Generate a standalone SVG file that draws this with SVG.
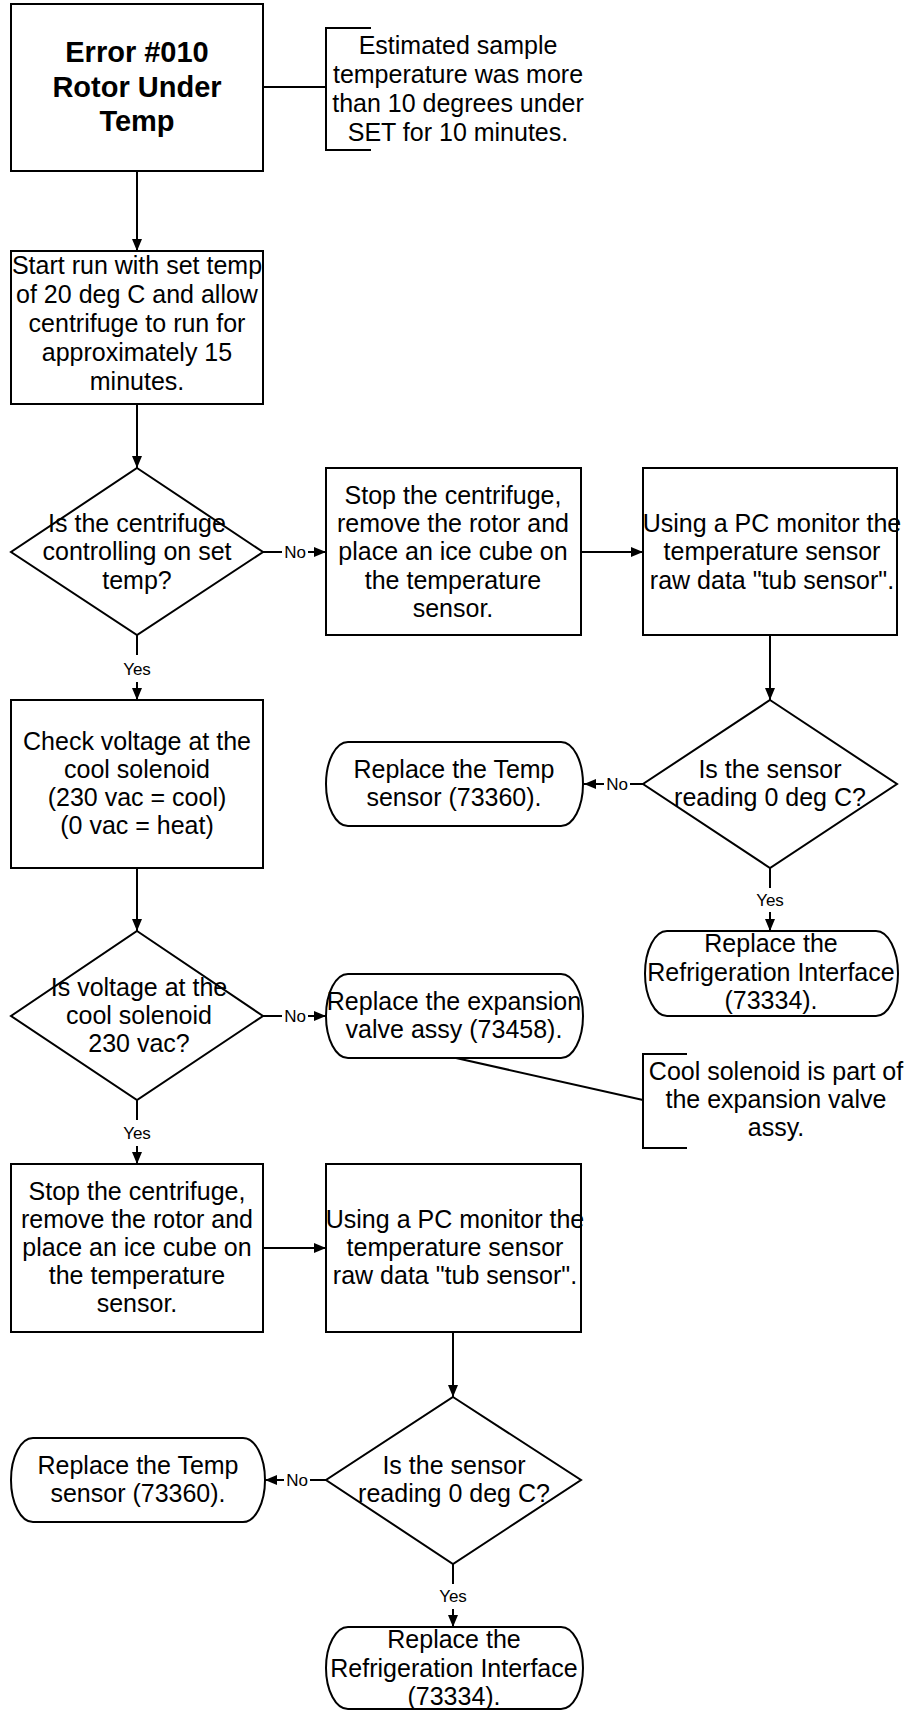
<svg xmlns="http://www.w3.org/2000/svg" width="907" height="1711" viewBox="0 0 907 1711">
<style>
.s{fill:#fff;stroke:#000;stroke-width:2}
.t{font-family:"Liberation Sans",Arial,sans-serif;font-size:25px;fill:#000;text-anchor:middle}
.b{font-family:"Liberation Sans",Arial,sans-serif;font-size:29px;font-weight:bold;fill:#000;text-anchor:middle}
.l{font-family:"Liberation Sans",Arial,sans-serif;font-size:17px;fill:#000;text-anchor:middle}
.c{fill:none;stroke:#000;stroke-width:2}
.a{fill:none;stroke:#000;stroke-width:2;marker-end:url(#ah)}
</style>
<defs>
<marker id="ah" viewBox="0 0 12 10" refX="12" refY="5" markerWidth="12" markerHeight="10" markerUnits="userSpaceOnUse" orient="auto">
<path d="M0,0 L12,5 L0,10 z" fill="#000"/>
</marker>
</defs>
<rect width="907" height="1711" fill="#fff"/>

<g id="connectors">
<path class="a" d="M137,171 V251"/>
<path class="a" d="M137,404 V468"/>
<path class="c" d="M263,552 H282"/>
<path class="a" d="M308,552 H326"/>
<path class="a" d="M581,552 H643"/>
<path class="a" d="M770,635 V700"/>
<path class="c" d="M643,784 H630"/>
<path class="a" d="M604,784 H584"/>
<path class="c" d="M770,868 V888"/>
<path class="a" d="M770,912 V931"/>
<path class="c" d="M137,635 V655"/>
<path class="a" d="M137,682 V700"/>
<path class="a" d="M137,868 V931"/>
<path class="c" d="M263,1016 H282"/>
<path class="a" d="M308,1016 H326"/>
<path class="c" d="M137,1100 V1120"/>
<path class="a" d="M137,1146 V1164"/>
<path class="a" d="M263,1248 H326"/>
<path class="a" d="M453,1332 V1397"/>
<path class="c" d="M326,1480 H310"/>
<path class="a" d="M284,1480 H265"/>
<path class="c" d="M453,1564 V1584"/>
<path class="a" d="M453,1609 V1627"/>
<path class="c" d="M263,87 H326"/>
<path class="c" d="M456,1058 L643,1100"/>
<text class="l" x="295" y="558">No</text>
<text class="l" x="617" y="790">No</text>
<text class="l" x="770" y="906">Yes</text>
<text class="l" x="137" y="675">Yes</text>
<text class="l" x="295" y="1022">No</text>
<text class="l" x="137" y="1139">Yes</text>
<text class="l" x="297" y="1486">No</text>
<text class="l" x="453" y="1602">Yes</text>
</g>

<g id="n-error">
<rect class="s" x="11" y="4" width="252" height="167"/>
<text class="b" x="137" y="62">Error #010</text>
<text class="b" x="137" y="97">Rotor Under</text>
<text class="b" x="137" y="131">Temp</text>
</g>

<g id="n-note1">
<path class="c" d="M371,28 H326 V150 H371"/>
<text class="t" x="458" y="54">Estimated sample</text>
<text class="t" x="458" y="83">temperature was more</text>
<text class="t" x="458" y="112">than 10 degrees under</text>
<text class="t" x="458" y="141">SET for 10 minutes.</text>
</g>

<g id="n-start">
<rect class="s" x="11" y="251" width="252" height="153"/>
<text class="t" x="137" y="274">Start run with set temp</text>
<text class="t" x="137" y="303">of 20 deg C and allow</text>
<text class="t" x="137" y="332">centrifuge to run for</text>
<text class="t" x="137" y="361">approximately 15</text>
<text class="t" x="137" y="390">minutes.</text>
</g>

<g id="n-d1">
<path class="s" d="M137,468 L263,552 L137,635 L11,552 Z"/>
<text class="t" x="137" y="532">Is the centrifuge</text>
<text class="t" x="137" y="560">controlling on set</text>
<text class="t" x="137" y="589">temp?</text>
</g>

<g id="n-stop1">
<rect class="s" x="326" y="468" width="255" height="167"/>
<text class="t" x="453" y="504">Stop the centrifuge,</text>
<text class="t" x="453" y="532">remove the rotor and</text>
<text class="t" x="453" y="560">place an ice cube on</text>
<text class="t" x="453" y="589">the temperature</text>
<text class="t" x="453" y="617">sensor.</text>
</g>

<g id="n-pc1">
<rect class="s" x="643" y="468" width="254" height="167"/>
<text class="t" x="772" y="532">Using a PC monitor the</text>
<text class="t" x="772" y="560">temperature sensor</text>
<text class="t" x="772" y="589">raw data "tub sensor".</text>
</g>

<g id="n-d2">
<path class="s" d="M770,700 L897,784 L770,868 L643,784 Z"/>
<text class="t" x="770" y="778">Is the sensor</text>
<text class="t" x="770" y="806">reading 0 deg C?</text>
</g>

<g id="n-temp1">
<path class="s" d="M348,742 H561 A22,42 0 0 1 561,826 H348 A22,42 0 0 1 348,742 Z"/>
<text class="t" x="454" y="778">Replace the Temp</text>
<text class="t" x="454" y="806">sensor (73360).</text>
</g>

<g id="n-refrig1">
<path class="s" d="M667,931 H876 A22,42.5 0 0 1 876,1016 H667 A22,42.5 0 0 1 667,931 Z"/>
<text class="t" x="771" y="952">Replace the</text>
<text class="t" x="771" y="981">Refrigeration Interface</text>
<text class="t" x="771" y="1009">(73334).</text>
</g>

<g id="n-check">
<rect class="s" x="11" y="700" width="252" height="168"/>
<text class="t" x="137" y="750">Check voltage at the</text>
<text class="t" x="137" y="778">cool solenoid</text>
<text class="t" x="137" y="806">(230 vac = cool)</text>
<text class="t" x="137" y="834">(0 vac = heat)</text>
</g>

<g id="n-d3">
<path class="s" d="M137,931 L263,1016 L137,1100 L11,1016 Z"/>
<text class="t" x="139" y="996">Is voltage at the</text>
<text class="t" x="139" y="1024">cool solenoid</text>
<text class="t" x="139" y="1052">230 vac?</text>
</g>

<g id="n-expansion">
<path class="s" d="M348,974 H561 A22,42 0 0 1 561,1058 H348 A22,42 0 0 1 348,974 Z"/>
<text class="t" x="454" y="1010">Replace the expansion</text>
<text class="t" x="454" y="1038">valve assy (73458).</text>
</g>

<g id="n-note2">
<path class="c" d="M687,1054 H643 V1148 H687"/>
<text class="t" x="776" y="1080">Cool solenoid is part of</text>
<text class="t" x="776" y="1108">the expansion valve</text>
<text class="t" x="776" y="1136">assy.</text>
</g>

<g id="n-stop2">
<rect class="s" x="11" y="1164" width="252" height="168"/>
<text class="t" x="137" y="1200">Stop the centrifuge,</text>
<text class="t" x="137" y="1228">remove the rotor and</text>
<text class="t" x="137" y="1256">place an ice cube on</text>
<text class="t" x="137" y="1284">the temperature</text>
<text class="t" x="137" y="1312">sensor.</text>
</g>

<g id="n-pc2">
<rect class="s" x="326" y="1164" width="255" height="168"/>
<text class="t" x="455" y="1228">Using a PC monitor the</text>
<text class="t" x="455" y="1256">temperature sensor</text>
<text class="t" x="455" y="1284">raw data "tub sensor".</text>
</g>

<g id="n-d4">
<path class="s" d="M453,1397 L581,1480 L453,1564 L326,1480 Z"/>
<text class="t" x="454" y="1474">Is the sensor</text>
<text class="t" x="454" y="1502">reading 0 deg C?</text>
</g>

<g id="n-temp2">
<path class="s" d="M33,1438 H243 A22,42 0 0 1 243,1522 H33 A22,42 0 0 1 33,1438 Z"/>
<text class="t" x="138" y="1474">Replace the Temp</text>
<text class="t" x="138" y="1502">sensor (73360).</text>
</g>

<g id="n-refrig2">
<path class="s" d="M348,1627 H561 A22,41 0 0 1 561,1709 H348 A22,41 0 0 1 348,1627 Z"/>
<text class="t" x="454" y="1648">Replace the</text>
<text class="t" x="454" y="1677">Refrigeration Interface</text>
<text class="t" x="454" y="1705">(73334).</text>
</g>
</svg>
